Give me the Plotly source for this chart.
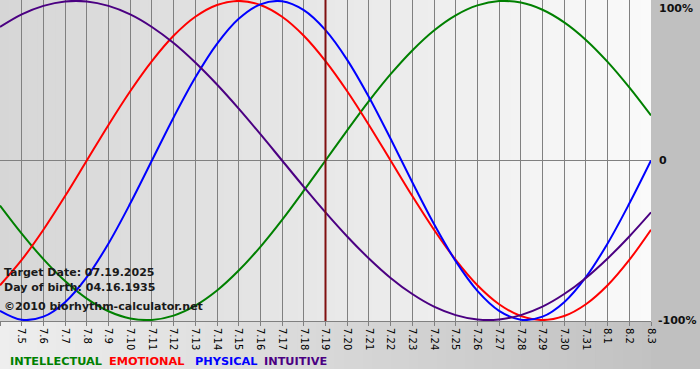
import plotly.graph_objects as go

# ---- data ----
dates = ["7.4", "7.5", "7.6", "7.7", "7.8", "7.9", "7.10", "7.11", "7.12", "7.13",
         "7.14", "7.15", "7.16", "7.17", "7.18", "7.19", "7.20", "7.21", "7.22", "7.23",
         "7.24", "7.25", "7.26", "7.27", "7.28", "7.29", "7.30", "7.31", "8.1", "8.2", "8.3"]

intellectual = [-0.282, -0.458, -0.618, -0.756, -0.866, -0.945, -0.990, -0.999, -0.972, -0.910,
                -0.815, -0.690, -0.541, -0.372, -0.189, 0.000, 0.189, 0.372, 0.541, 0.690,
                0.815, 0.910, 0.972, 0.999, 0.990, 0.945, 0.866, 0.756, 0.618, 0.458, 0.282]
emotional = [-0.782, -0.623, -0.434, -0.223, 0.000, 0.223, 0.434, 0.623, 0.782, 0.901,
             0.975, 1.000, 0.975, 0.901, 0.782, 0.623, 0.434, 0.223, 0.000, -0.223,
             -0.434, -0.623, -0.782, -0.901, -0.975, -1.000, -0.975, -0.901, -0.782, -0.623, -0.434]
physical = [-0.942, -0.998, -0.979, -0.888, -0.731, -0.520, -0.270, 0.000, 0.270, 0.520,
            0.731, 0.888, 0.979, 0.998, 0.942, 0.817, 0.631, 0.398, 0.136, -0.136,
            -0.398, -0.631, -0.817, -0.942, -0.998, -0.979, -0.888, -0.731, -0.520, -0.270, 0.000]
intuitive = [0.837, 0.916, 0.969, 0.997, 0.997, 0.969, 0.916, 0.837, 0.736, 0.614,
             0.476, 0.325, 0.165, 0.000, -0.165, -0.325, -0.476, -0.614, -0.736, -0.837,
             -0.916, -0.969, -0.997, -0.997, -0.969, -0.916, -0.837, -0.736, -0.614, -0.476, -0.325]

series_names = ["INTELLECTUAL", "EMOTIONAL", "PHYSICAL", "INTUITIVE"]
series_colors = ["#008000", "#ff0000", "#0000ff", "#4b0082"]
legend_px = [8, 107, 193, 262]
target_date = "7.19"
target_text = "Target Date: 07.19.2025"
birth_text = "Day of birth: 04.16.1935"
credit_text = "\u00a92010 biorhythm-calculator.net"
pct_labels = ["100%", "0", "-100%"]

W, H = 700, 380
ML, MR, MT, MB = 0, 49, 0, 59
plot_w = W - ML - MR
plot_h = H - MT - MB

fig = go.Figure()
for name, vals, col in zip(series_names, [intellectual, emotional, physical, intuitive], series_colors):
    fig.add_trace(go.Scatter(x=list(range(len(dates))), y=vals, mode="lines", name=name,
                             line=dict(color=col, width=2, shape="spline", smoothing=1.0),
                             hoverinfo="skip"))

shapes = []
# plot-area horizontal gradient
n = 70
for i in range(n):
    t = i / (n - 1)
    g = int(round(0xd6 + (0xfa - 0xd6) * t))
    shapes.append(dict(type="rect", xref="paper", yref="paper",
                       x0=i / n, x1=(i + 1) / n + 0.002, y0=0, y1=1,
                       fillcolor=f"rgb({g},{g},{g})", line=dict(width=0), layer="below"))
# bottom strip gradient
y_bot = -(369 - plot_h) / plot_h
x_right = W / plot_w
for i in range(n):
    t = i / (n - 1)
    g = int(round(0xee + (0xc2 - 0xee) * t))
    shapes.append(dict(type="rect", xref="paper", yref="paper",
                       x0=i / n, x1=(i + 1) / n + 0.002, y0=y_bot, y1=0,
                       fillcolor=f"rgb({g},{g},{g})", line=dict(width=0), layer="below"))
# right margin
shapes.append(dict(type="rect", xref="paper", yref="paper",
                   x0=1, x1=x_right, y0=y_bot, y1=1.01,
                   fillcolor="#c0c0c0", line=dict(width=0), layer="below"))
# target date line
ti = dates.index(target_date)
shapes.append(dict(type="line", xref="x", yref="paper", x0=ti, x1=ti, y0=0, y1=1,
                   line=dict(color="#801010", width=2), layer="above"))

font_b = dict(family="DejaVu Sans", size=11, color="#1a1a1a")
annotations = [
    dict(text="<b>" + target_text + "</b>", xref="paper", yref="paper", x=0, y=(plot_h - 272) / plot_h,
         xanchor="left", yanchor="middle", xshift=2, showarrow=False, font=font_b),
    dict(text="<b>" + birth_text + "</b>", xref="paper", yref="paper", x=0, y=(plot_h - 287) / plot_h,
         xanchor="left", yanchor="middle", xshift=2, showarrow=False, font=font_b),
    dict(text="<b>" + credit_text + "</b>", xref="paper", yref="paper", x=0, y=(plot_h - 306) / plot_h,
         xanchor="left", yanchor="middle", xshift=2, showarrow=False, font=font_b),
]
for nm, c, px in zip(series_names, series_colors, legend_px):
    annotations.append(dict(text="<b>" + nm + "</b>", xref="paper", yref="paper",
                            x=px / plot_w, y=-(361 - plot_h) / plot_h,
                            xanchor="left", yanchor="middle", showarrow=False,
                            font=dict(family="DejaVu Sans", size=11.3, color=c)))
# right labels
rfont = dict(family="DejaVu Sans", size=11, color="#111")
annotations.append(dict(text="<b>" + pct_labels[0] + "</b>", xref="paper", yref="paper", x=1, y=1,
                        xanchor="left", yanchor="top", xshift=6, showarrow=False, font=rfont))
annotations.append(dict(text="<b>" + pct_labels[1] + "</b>", xref="paper", yref="y", x=1, y=0,
                        xanchor="left", yanchor="middle", xshift=6, showarrow=False, font=rfont))
annotations.append(dict(text="<b>" + pct_labels[2] + "</b>", xref="paper", yref="y", x=1, y=-1,
                        xanchor="left", yanchor="middle", xshift=5, showarrow=False, font=rfont))

fig.update_layout(
    width=W, height=H, margin=dict(l=ML, r=MR, t=MT, b=MB, pad=0, autoexpand=False),
    paper_bgcolor="white", plot_bgcolor="rgba(0,0,0,0)",
    showlegend=False, shapes=shapes, annotations=annotations,
    xaxis=dict(range=[0, len(dates) - 1], tickmode="array", tickvals=list(range(len(dates))),
               ticktext=dates, tickangle=90, showgrid=True, gridcolor="#808080", gridwidth=1,
               ticks="outside", ticklen=4, tickcolor="#808080", showline=True, linecolor="#808080",
               linewidth=1, zeroline=False, tickfont=dict(family="DejaVu Sans", size=10, color="#000"),
               fixedrange=True, automargin=False),
    yaxis=dict(range=[-1.006, 1.006], showgrid=False, showticklabels=False, zeroline=True,
               zerolinecolor="#808080", zerolinewidth=1, ticks="", fixedrange=True, automargin=False),
)

fig.write_html("out.html", config={"displayModeBar": False},
               post_script="document.body.style.margin='0';document.body.style.overflow='hidden';")
